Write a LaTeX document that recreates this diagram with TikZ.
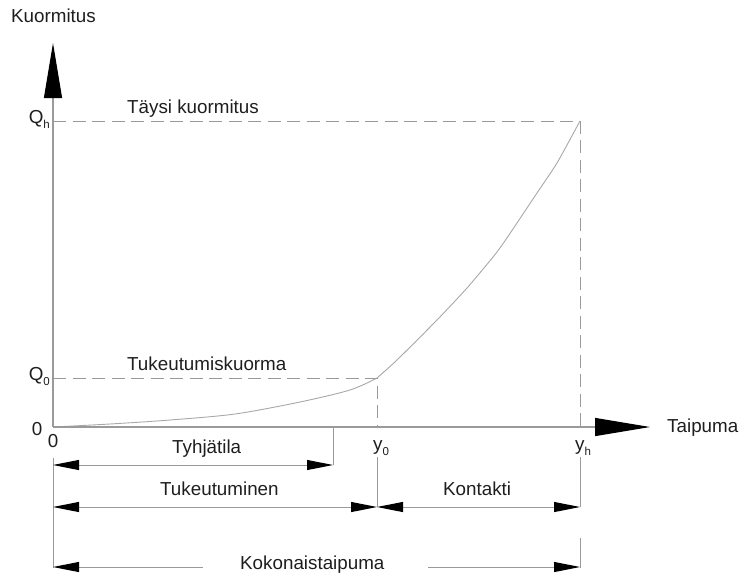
\documentclass[tikz,border=0pt]{standalone}
\usepackage{fontspec}
\setmainfont{Liberation Sans}
\usetikzlibrary{arrows.meta}
\definecolor{linegray}{HTML}{9A9A9A}
\definecolor{curvegray}{HTML}{A8A8A8}
\definecolor{txt}{HTML}{1E1E1E}
\newcommand\mysub[1]{\raisebox{-0.3em}{\fontsize{11.5}{11.5}\selectfont #1}}
\tikzset{
  lbl/.style={inner sep=0pt, text=txt, font=\fontsize{18.8}{20}\selectfont},
  axisline/.style={draw=linegray, line width=1.1pt},
  axistip/.style={-{Triangle[length=55pt,width=18pt,color=black]}},
  guide/.style={draw=linegray, line width=0.9pt, dash pattern=on 13pt off 6.5pt},
  ext/.style={draw=linegray, line width=0.9pt},
  dimline/.style={draw=linegray, line width=0.9pt},
  dimtip/.style={{Triangle[length=26pt,width=10pt,color=black]}-{Triangle[length=26pt,width=10pt,color=black]}},
  dimtipL/.style={{Triangle[length=26pt,width=10pt,color=black]}-},
  dimtipR/.style={-{Triangle[length=26pt,width=10pt,color=black]}},
}
\begin{document}
\begin{tikzpicture}[x=1pt,y=-1pt]
\useasboundingbox (0,0) rectangle (744,574);
% key coordinates
\coordinate (O) at (53,427);
\coordinate (ytop) at (53,43);
\coordinate (xend) at (650,427);
\coordinate (Qh) at (53,121);
\coordinate (Q0) at (53,378);
\coordinate (P0) at (377,378);
\coordinate (Ph) at (580,121);
\coordinate (Y0) at (377,427);
\coordinate (Yh) at (580,427);
% curve
\draw[draw=curvegray, line width=0.9pt]
  plot[smooth, tension=0.5] coordinates {(53,427) (110,424) (170,420) (235,414) (300,402) (350,390) (377,378)}
  -- plot[smooth, tension=0.35] coordinates {(377,378) (397,360) (437,320) (467,288) (497,252) (517,223) (537,193) (557,163) (580,121)};
% guides
\draw[guide] (Qh) -- (Ph) -- (Yh);
\draw[guide] (Q0) -- (P0) -- (Y0);
% axes
\draw[axisline, axistip] (O) -- (xend);
\draw[axisline, axistip] (O) -- (ytop);
% extension lines
\coordinate (e1a) at (53,458); \coordinate (e1b) at (53,568);
\coordinate (e2a) at (333,427); \coordinate (e2b) at (333,465);
\coordinate (e3a) at (377,457); \coordinate (e3b) at (377,507);
\coordinate (e4a) at (580,457); \coordinate (e4b) at (580,507);
\coordinate (e5a) at (580,538); \coordinate (e5b) at (580,568);
\draw[ext] (e1a) -- (e1b);
\draw[ext] (e2a) -- (e2b);
\draw[ext] (e3a) -- (e3b);
\draw[ext] (e4a) -- (e4b);
\draw[ext] (e5a) -- (e5b);
% dimension lines
\coordinate (d1a) at (53,465); \coordinate (d1b) at (333,465);
\coordinate (d2a) at (53,507); \coordinate (d2b) at (377,507);
\coordinate (d3a) at (377,507); \coordinate (d3b) at (580,507);
\coordinate (d4a) at (53,567); \coordinate (d4m) at (203,567);
\coordinate (d4n) at (428,567); \coordinate (d4b) at (580,567);
\draw[dimline, dimtip] (d1a) -- (d1b);
\draw[dimline, dimtip] (d2a) -- (d2b);
\draw[dimline, dimtip] (d3a) -- (d3b);
\draw[dimline, dimtipL] (d4a) -- (d4m);
\draw[dimline, dimtipR] (d4n) -- (d4b);
% labels
\node[lbl, anchor=base west] (kuorm) at (11,22) {Kuormitus};
\node[lbl, anchor=base west] (taysi) at (127,113) {Täysi kuormitus};
\node[lbl, anchor=base west] (tukk) at (127,370) {Tukeutumiskuorma};
\node[lbl, anchor=base west] (tyhj) at (172,453) {Tyhjätila};
\node[lbl, anchor=base west] (tuke) at (160,495) {Tukeutuminen};
\node[lbl, anchor=base west] (kont) at (443,495) {Kontakti};
\node[lbl, anchor=base west] (koko) at (240,569) {Kokonaistaipuma};
\node[lbl, anchor=base west] (taip) at (667,432) {Taipuma};
\node[lbl, anchor=base east] (lQh) at (50,123) {Q\mysub{h}};
\node[lbl, anchor=base east] (lQ0) at (50,380) {Q\mysub{0}};
\node[lbl, anchor=base] (l0a) at (37,435) {0};
\node[lbl, anchor=base] (l0b) at (53,447) {0};
\node[lbl, anchor=base] (ly0) at (381,450) {y\mysub{0}};
\node[lbl, anchor=base] (lyh) at (583,450) {y\mysub{h}};
\end{tikzpicture}
\end{document}
